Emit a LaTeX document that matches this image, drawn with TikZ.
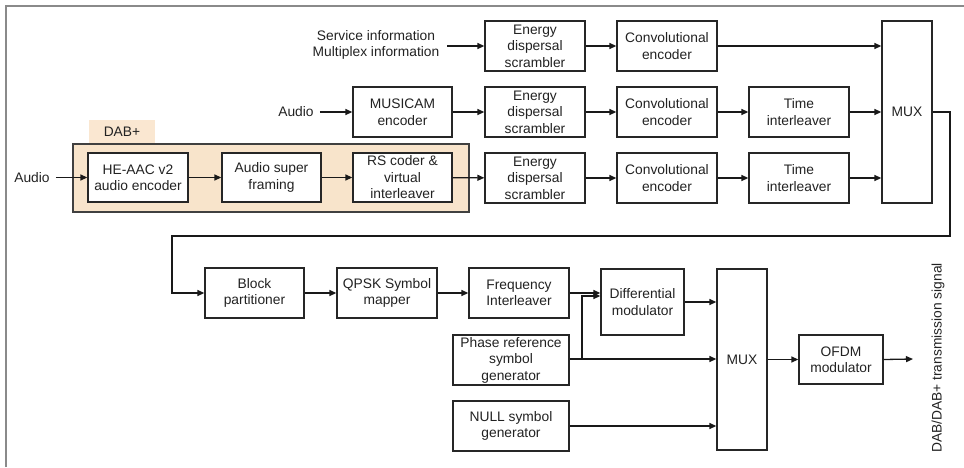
\documentclass[tikz,border=0pt]{standalone}
\usepackage{fontspec}
\setmainfont{Liberation Sans}
\usetikzlibrary{arrows.meta}
\definecolor{dabfill}{HTML}{F8E4CB}
\definecolor{dablabel}{HTML}{FAE7D1}
\definecolor{framegray}{HTML}{8A8A8A}
\definecolor{txt}{HTML}{222222}
\begin{document}
\begin{tikzpicture}[x=1pt,y=-1pt,
  font=\fontsize{13.8}{16.5}\selectfont,
  every node/.style={text=txt},
  blk/.style={draw=black!85,line width=1.3pt,fill=white,minimum width=100pt,minimum height=50pt,
    align=center,inner sep=0pt},
  tallbox/.style={blk,minimum width=50pt},
  lbl/.style={align=center,inner sep=0pt},
  arr/.style={line width=1.3pt,draw=black!90,-{Triangle[length=7pt,width=6pt]}},
  wire/.style={line width=1.3pt,draw=black!90}]
\useasboundingbox (0,0) rectangle (964,467);
% page frame (top and left edges)
\draw[framegray,line width=1.6pt] (6,467) -- (6,6) -- (964,6);

% DAB+ group
\fill[dablabel] (89,120) rectangle (155,143);
\node[lbl] (dablbl) at (122,131.5) {DAB+};
\draw[fill=dabfill,draw=black!75,line width=1.8pt] (73,144) rectangle (469,212);

% first row: service / multiplex information
\node[lbl] (si) at (376,45) {Service information\\Multiplex information};
\node[blk] (en1) at (535,46) {Energy\\dispersal\\scrambler};
\node[blk] (cv1) at (667,46) {Convolutional\\encoder};

% second row: MUSICAM audio
\node[lbl] (au2) at (296,112) {Audio};
\node[blk,minimum width=99pt] (mus) at (402.5,112) {MUSICAM\\encoder};
\node[blk] (en2) at (535,112) {Energy\\dispersal\\scrambler};
\node[blk] (cv2) at (667,112) {Convolutional\\encoder};
\node[blk] (ti2) at (799,112) {Time\\interleaver};

% third row: DAB+ audio
\node[lbl] (au1) at (32,177.5) {Audio};
\node[blk,minimum height=49pt] (he) at (138,177.5) {HE-AAC v2\\audio encoder};
\node[blk,minimum width=99pt,minimum height=49pt] (asf) at (271.5,177.5) {Audio super\\framing};
\node[blk,minimum width=99pt,minimum height=49pt] (rs) at (402.5,177.5) {RS coder \&\\virtual\\interleaver};
\node[blk] (en3) at (535,178) {Energy\\dispersal\\scrambler};
\node[blk] (cv3) at (667,178) {Convolutional\\encoder};
\node[blk] (ti3) at (799,178) {Time\\interleaver};

\node[tallbox,minimum height=182pt] (mux1) at (907,112) {MUX};

% lower chain
\node[blk,minimum width=99pt] (bp) at (254.5,293) {Block\\partitioner};
\node[blk] (qp) at (387,293) {QPSK Symbol\\mapper};
\node[blk] (fi) at (519,293) {Frequency\\Interleaver};
\node[blk,minimum width=116pt] (pr) at (511,360) {Phase reference\\symbol\\generator};
\node[blk,minimum width=116pt] (nu) at (511,426) {NULL symbol\\generator};
\node[blk,minimum width=83pt,minimum height=66pt] (dm) at (642.5,302) {Differential\\modulator};
\node[tallbox,minimum height=181pt] (mux2) at (742,359.5) {MUX};
\node[blk,minimum width=84pt,minimum height=49pt] (of) at (841,359.5) {OFDM\\modulator};
\node[lbl,rotate=90] (sig) at (938,358) {DAB/DAB+ transmission signal};

% routing points
\coordinate (r1) at (950,112);
\coordinate (r2) at (950,236);
\coordinate (r3) at (172,236);
\coordinate (br) at (582,359);
\coordinate (out) at (913,359);

% connectors, top section
\draw[arr] ([xshift=8pt]si.east |- en1.west) -- (en1.west);
\draw[arr] (en1) -- (cv1);
\draw[arr] (cv1.east) -- (cv1.east -| mux1.west) ;
\draw[arr] ([xshift=6pt]au2.east) -- (mus.west);
\draw[arr] (mus) -- (en2);
\draw[arr] (en2) -- (cv2);
\draw[arr] (cv2) -- (ti2);
\draw[arr] (ti2.east) -- (ti2.east -| mux1.west);
\draw[arr] ([xshift=6pt]au1.east) -- (he.west);
\draw[arr] (he) -- (asf);
\draw[arr] (asf) -- (rs);
\draw[arr] (rs) -- (en3);
\draw[arr] (en3) -- (cv3);
\draw[arr] (cv3) -- (ti3);
\draw[arr] (ti3.east) -- (ti3.east -| mux1.west);

% MUX output loops back to the lower chain
\draw[arr] (mux1.east |- r1) -- (r1) -- (r2) -- (r3) -- (r3 |- bp.west) -- (bp.west);

% connectors, lower section
\draw[arr] (bp) -- (qp);
\draw[arr] (qp) -- (fi);
\draw[arr] (fi.east) -- (fi.east -| dm.west);
\draw[arr] (pr.east |- br) -- (br -| mux2.west);
\draw[arr] (br) -- ([yshift=6pt]br |- dm.center) -- ([yshift=6pt]dm.west);
\draw[arr] (dm.east) -- (dm.east -| mux2.west);
\draw[arr] (nu.east) -- (nu.east -| mux2.west);
\draw[arr] (mux2.east |- of.west) -- (of.west);
\draw[arr] (of.east) -- (out);
\end{tikzpicture}
\end{document}
